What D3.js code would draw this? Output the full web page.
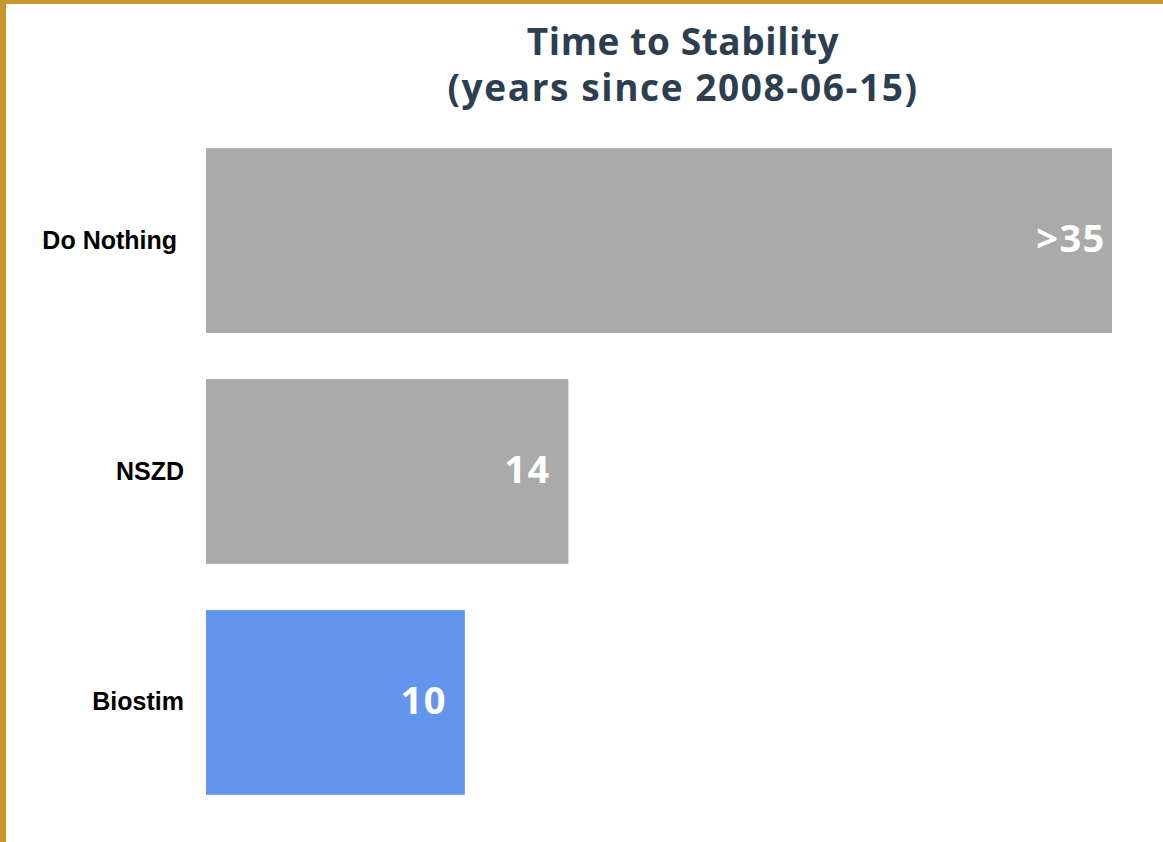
<!DOCTYPE html>
<html>
<head>
<meta charset="utf-8">
<script src="https://cdn.jsdelivr.net/npm/d3@7"></script>
<style>
  html, body { margin: 0; padding: 0; background: #fff; }
  #frame {
    width: 1157px; height: 838px;
    border-top: 4px solid #c8962c;
    border-left: 6px solid #c8962c;
    overflow: hidden;
  }
  svg { display: block; }
</style>
</head>
<body>
<div id="frame"><svg id="chart" width="1157" height="838"></svg></div>
<script>
// chart data
const categories = ["Do Nothing ", "NSZD", "Biostim"];
const values = [35, 14, 10];
const valueLabels = [">35", "14", "10"];
const barColors = ["#aaaaaa", "#aaaaaa", "#6495ed"];
const titleLines = ["Time to Stability", "(years since 2008-06-15)"];

const svg = d3.select("#chart");
// svg origin sits inside the border (6px left, 4px top)
const OX = 6, OY = 4;
const g = svg.append("g").attr("transform", "translate(" + (-OX) + "," + (-OY) + ")");

const x = d3.scaleLinear().domain([0, 35]).range([206, 1112]);
const y = d3.scaleBand().domain(categories).range([102, 841]).paddingInner(0.2).paddingOuter(0.2);

// title, one text per line
g.selectAll("text.title")
  .data(titleLines)
  .join("text")
  .attr("class", "title")
  .attr("x", 683)
  .attr("y", (d, i) => 55 + i * 46)
  .attr("text-anchor", "middle")
  .style("font-family", "'Open Sans', Lato, sans-serif")
  .style("font-weight", "bold")
  .style("font-size", "37px")
  .style("letter-spacing", (d, i) => i === 0 ? "0.6px" : "1.6px")
  .style("fill", "#2c3e50")
  .text(d => d);

// bars
g.selectAll("rect.bar")
  .data(values)
  .join("rect")
  .attr("class", "bar")
  .attr("x", x(0))
  .attr("y", (d, i) => y(categories[i]))
  .attr("width", d => x(d) - x(0))
  .attr("height", y.bandwidth())
  .attr("fill", (d, i) => barColors[i]);

// value labels inside bars
g.selectAll("text.val")
  .data(values)
  .join("text")
  .attr("class", "val")
  .attr("x", d => x(d) - 41)
  .attr("y", (d, i) => y(categories[i]) + y.bandwidth() / 2)
  .attr("dy", "0.3em")
  .attr("text-anchor", "middle")
  .style("font-family", "'Open Sans', sans-serif")
  .style("font-weight", "bold")
  .style("font-size", "38px")
  .style("letter-spacing", "1.5px")
  .style("fill", "#fff")
  .text((d, i) => valueLabels[i]);

// category axis
const yAxis = d3.axisLeft(y).tickSize(0).tickPadding(0);
const ax = g.append("g")
  .attr("transform", "translate(184,0)")
  .call(yAxis);
ax.select(".domain").remove();
ax.selectAll("text")
  .style("font-family", "'Liberation Sans', Arial, sans-serif")
  .style("font-weight", "bold")
  .style("font-size", "25px")
  .style("fill", "#000")
  .style("white-space", "pre");
</script>
</body>
</html>
